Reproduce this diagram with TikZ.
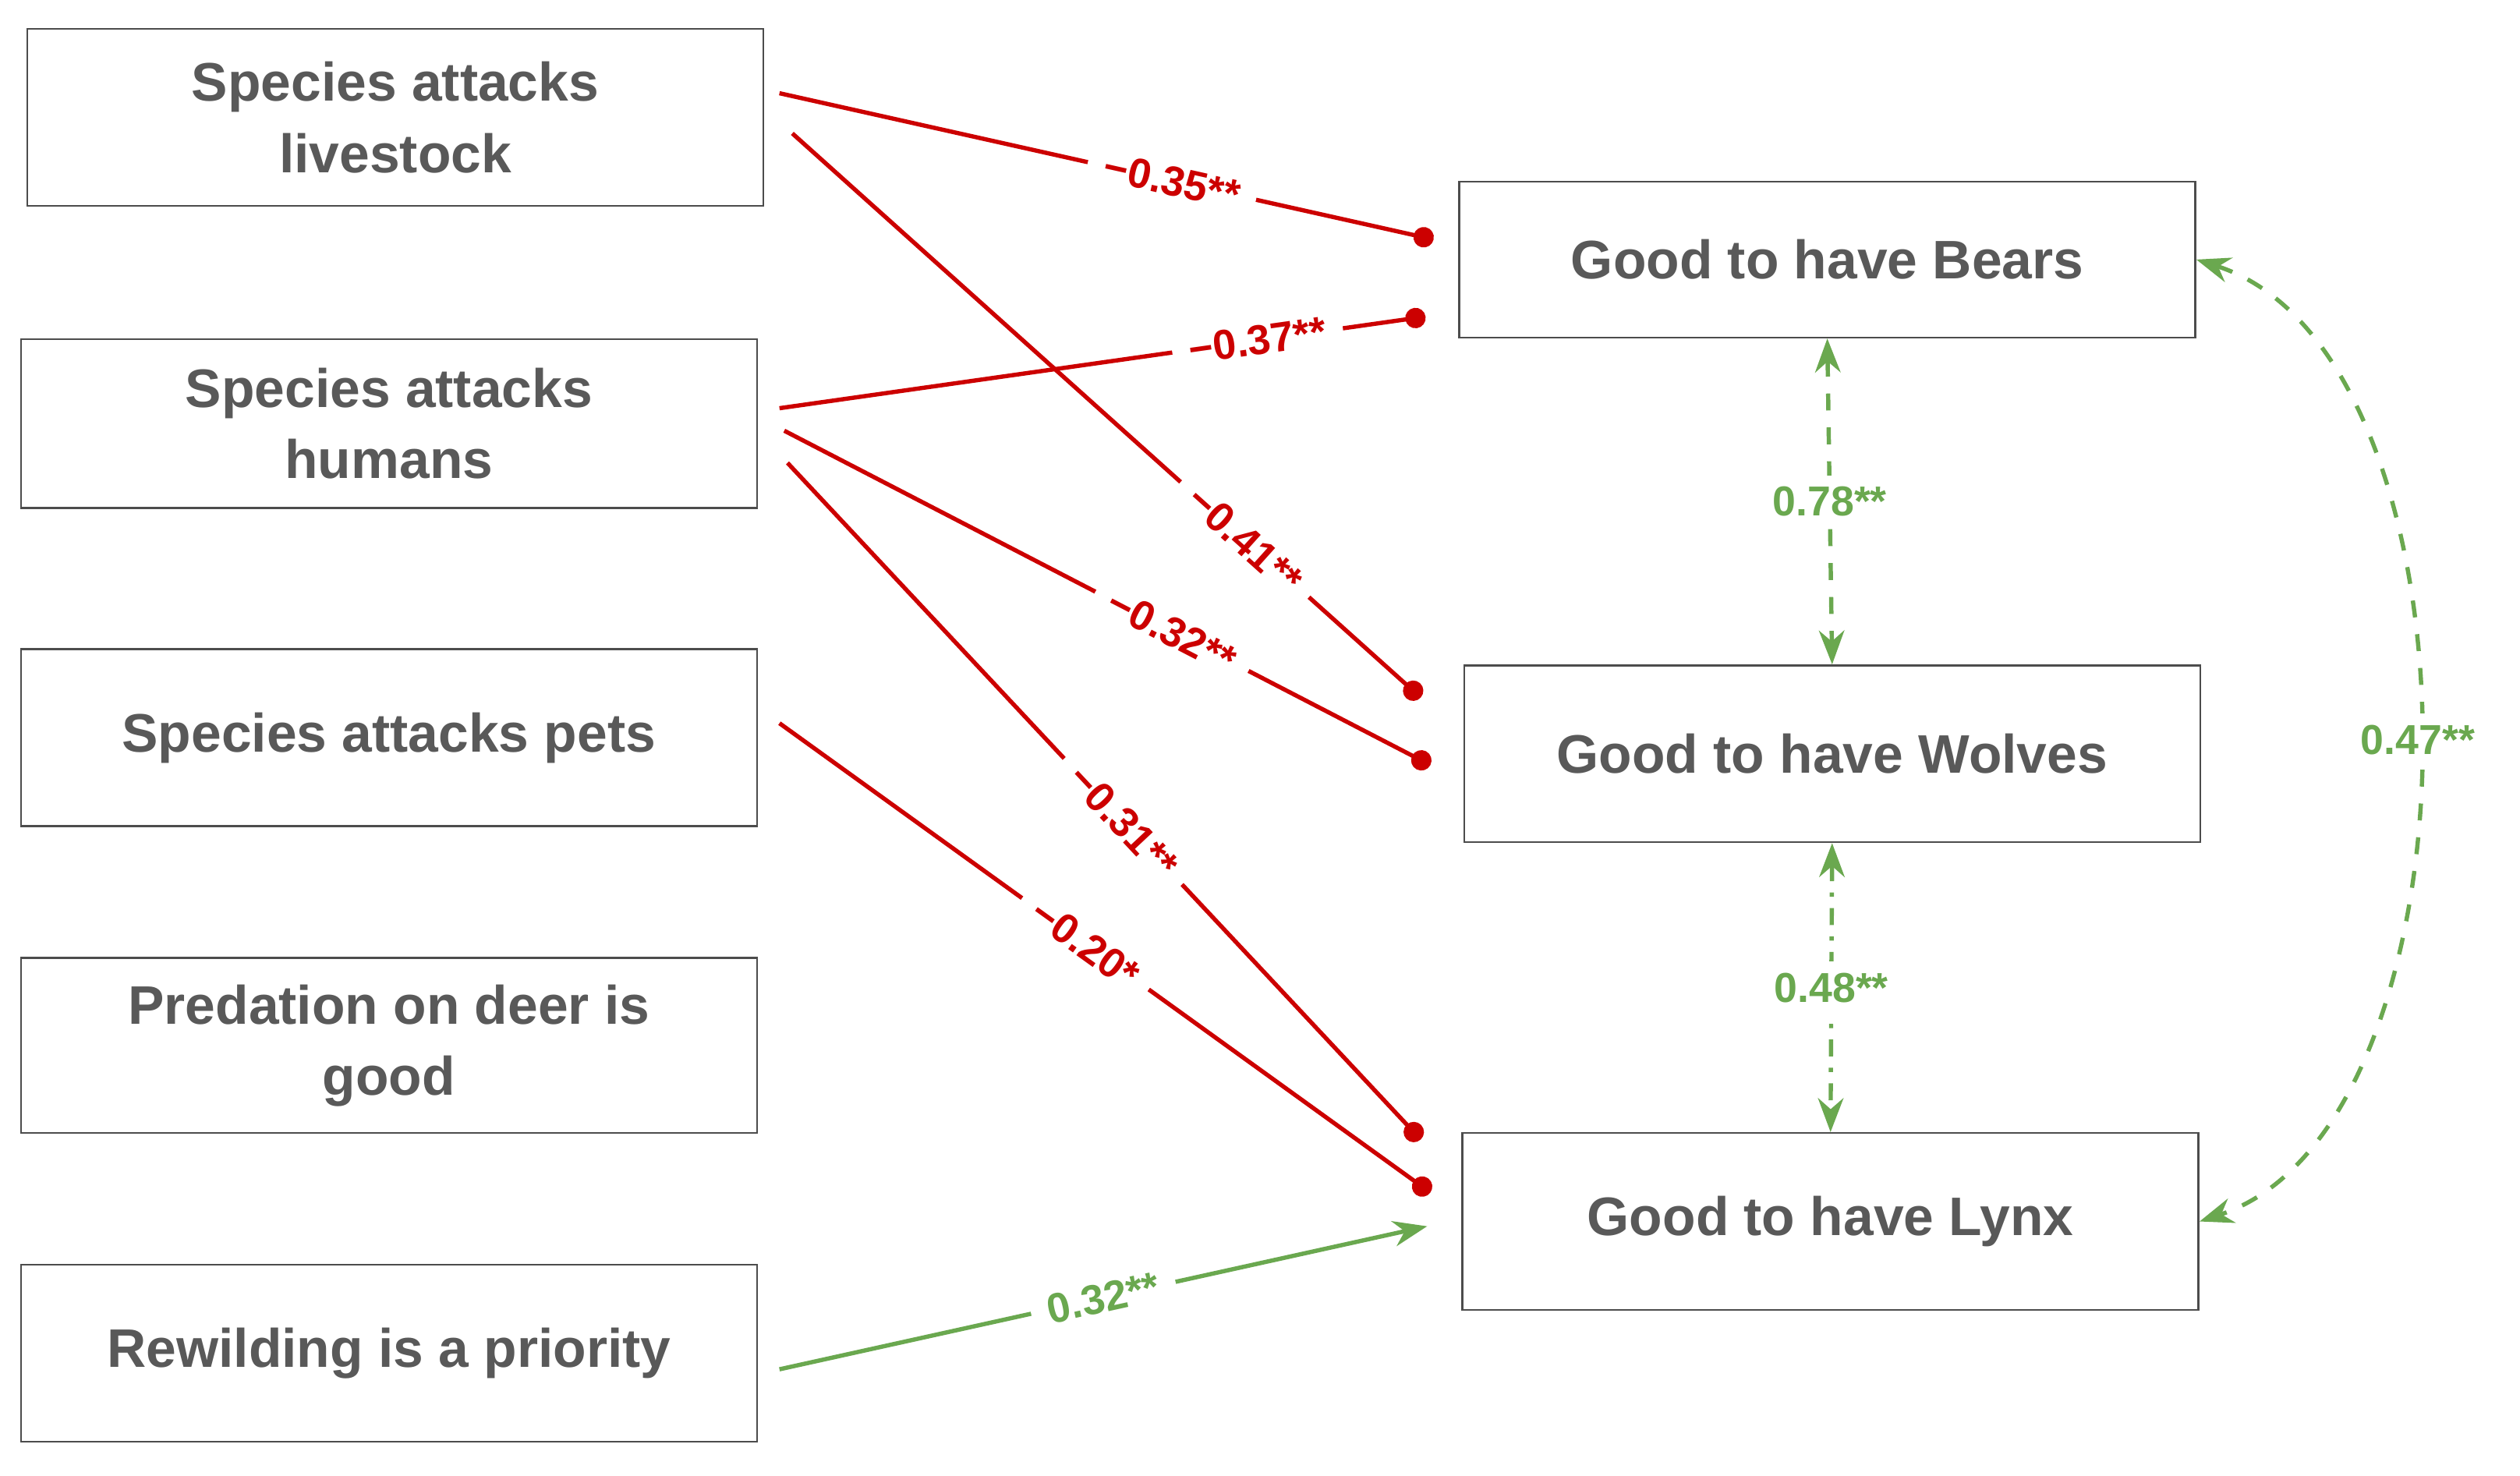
\documentclass[tikz,border=0pt]{standalone}
\usepackage{fontspec}
\setmainfont{Liberation Sans}
\usetikzlibrary{arrows.meta}
\definecolor{dred}{HTML}{CC0000}
\definecolor{lgreen}{HTML}{6AA84F}
\definecolor{tgray}{HTML}{595959}
\begin{document}
\begin{tikzpicture}[x=0.01cm,y=-0.01cm,
 box/.style={draw=black!70,line width=0.35pt,text=tgray,font=\fontsize{9.6}{12.6}\selectfont\bfseries,align=center},
 rl/.style={dred,line width=0.75pt,-{Circle[length=3.6pt]}},
 gl/.style={lgreen,line width=0.75pt},
 rlab/.style={fill=white,text=dred,font=\fontsize{7.4}{8}\selectfont\bfseries,sloped,inner xsep=3pt,inner ysep=1pt},
 glab/.style={fill=white,text=lgreen,font=\fontsize{7.4}{8}\selectfont\bfseries,inner xsep=3pt,inner ysep=2pt}]
\useasboundingbox (0,0) rectangle (1568,918);
\newcommand{\bx}[6]{\node[box,minimum width=#4*0.01cm-#2*0.01cm,minimum height=#5*0.01cm-#3*0.01cm] (#1) at ({(#2+#4)/2},{(#3+#5)/2}) {#6};}
\bx{liv}{17}{18}{475}{128}{Species attacks\\livestock}
\bx{hum}{13}{211}{471}{316}{Species attacks\\humans}
\bx{pet}{13}{404}{471}{514}{Species attacks pets}
\bx{deer}{13}{596}{471}{705}{Predation on deer is\\good}
\bx{rew}{13}{787}{471}{897}{Rewilding is a priority}
\bx{bear}{908}{113}{1366}{210}{Good to have Bears}
\bx{wolf}{911}{414}{1369}{524}{Good to have Wolves}
\bx{lynx}{910}{705}{1368}{815}{Good to have Lynx}
\coordinate (a1) at (485,58); \coordinate (b1) at (892,149);
\coordinate (a2) at (493,83); \coordinate (b2) at (884,434);
\coordinate (a3) at (485,254); \coordinate (b3) at (887,197);
\coordinate (a4) at (488,268); \coordinate (b4) at (890,476);
\coordinate (a5) at (490,288); \coordinate (b5) at (884,709);
\coordinate (a6) at (485,450); \coordinate (b6) at (890,742);
\coordinate (a7) at (485,852); \coordinate (b7) at (888,763);
\draw[rl] (a1) -- node[rlab,pos=0.6]{−0.35**} (b1);
\draw[rl] (a2) -- node[rlab,pos=0.72]{−0.41**} (b2);
\draw[rl] (a3) -- node[rlab,pos=0.74]{−0.37**} (b3);
\draw[rl] (a4) -- node[rlab,pos=0.6]{−0.32**} (b4);
\draw[rl] (a5) -- node[rlab,pos=0.53]{−0.31**} (b5);
\draw[rl] (a6) -- node[rlab,pos=0.47]{−0.20*} (b6);
\draw[gl,-{Stealth[length=6pt]}] (a7) -- node[glab,sloped,pos=0.5]{0.32**} (b7);
\draw[gl,dashed,{Stealth[length=6pt]}-{Stealth[length=6pt]}] (bear.south) -- node[glab]{0.78**} (wolf.north);
\draw[gl,dash dot,{Stealth[length=6pt]}-{Stealth[length=6pt]}] (wolf.south) -- node[glab]{0.48**} (lynx.north);
\draw[gl,dashed,{Stealth[length=6pt]}-{Stealth[length=6pt]}] (bear.east) .. controls (1550,220) and (1550,700) .. node[glab,pos=0.5]{0.47**} (lynx.east);
\end{tikzpicture}
\end{document}
